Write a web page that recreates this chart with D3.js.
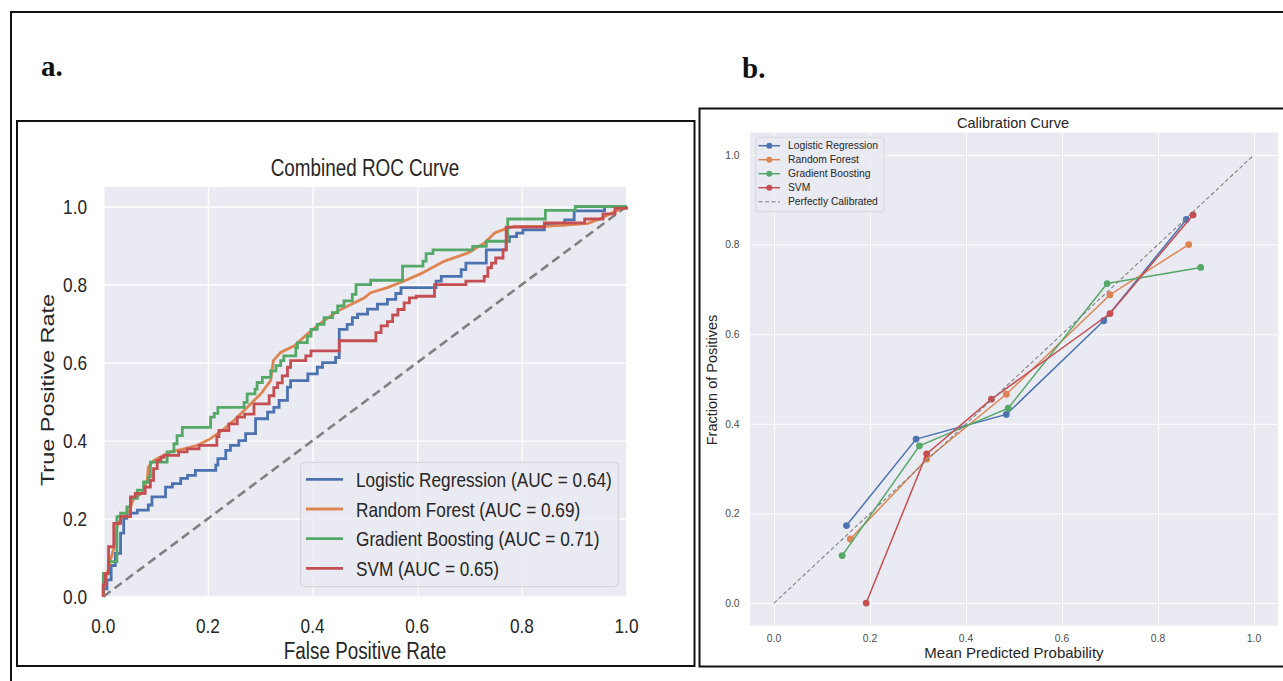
<!DOCTYPE html>
<html>
<head>
<meta charset="utf-8">
<script src="https://cdn.jsdelivr.net/npm/d3@7"></script>
<style>
body { margin: 0; background: #fff; }
svg { display: block; font-family: "Liberation Sans", Arial, sans-serif; }
</style>
</head>
<body>
<svg id="fig" width="1283" height="681"></svg>
<script>
// ---- data ----
var models = ["Logistic Regression", "Random Forest", "Gradient Boosting", "SVM"];
var aucs = [0.64, 0.69, 0.71, 0.65];
var ticks = [0, 0.2, 0.4, 0.6, 0.8, 1.0];

// ROC curves (fpr / tpr)
var lrFpr = [0, 0, 0.007, 0.015, 0.023, 0.033, 0.039, 0.045, 0.065, 0.086, 0.093, 0.119, 0.132, 0.148, 0.161, 0.176, 0.215, 0.219, 0.234, 0.243, 0.259, 0.272, 0.291, 0.314, 0.326, 0.336, 0.352, 0.358, 0.391, 0.409, 0.419, 0.444, 0.451, 0.466, 0.476, 0.486, 0.505, 0.524, 0.543, 0.559, 0.569, 0.636, 0.646, 0.684, 0.693, 0.732, 0.77, 0.776, 0.79, 0.802, 0.843, 0.882, 0.9, 0.958, 1];
var lrTpr = [0, 0.02, 0.043, 0.08, 0.111, 0.163, 0.201, 0.214, 0.222, 0.235, 0.256, 0.281, 0.29, 0.303, 0.311, 0.324, 0.337, 0.354, 0.375, 0.388, 0.40, 0.418, 0.456, 0.473, 0.485, 0.503, 0.537, 0.554, 0.571, 0.588, 0.60, 0.613, 0.685, 0.698, 0.715, 0.724, 0.737, 0.75, 0.762, 0.777, 0.792, 0.809, 0.821, 0.838, 0.855, 0.889, 0.911, 0.923, 0.932, 0.94, 0.953, 0.966, 0.989, 1.0, 1.0];

var rfFpr = [0, 0, 0.004, 0.013, 0.02, 0.026, 0.036, 0.049, 0.058, 0.068, 0.077, 0.084, 0.086, 0.096, 0.109, 0.128, 0.154, 0.18, 0.205, 0.231, 0.25, 0.275, 0.301, 0.32, 0.325, 0.339, 0.365, 0.39, 0.416, 0.448, 0.479, 0.499, 0.511, 0.543, 0.575, 0.607, 0.652, 0.697, 0.728, 0.748, 0.767, 0.786, 0.843, 0.888, 0.927, 0.952, 0.978, 1];
var rfTpr = [0, 0.03, 0.04, 0.09, 0.124, 0.179, 0.205, 0.218, 0.252, 0.26, 0.269, 0.298, 0.332, 0.349, 0.358, 0.371, 0.379, 0.388, 0.405, 0.43, 0.452, 0.485, 0.52, 0.554, 0.605, 0.626, 0.643, 0.673, 0.702, 0.732, 0.753, 0.766, 0.779, 0.792, 0.809, 0.828, 0.86, 0.881, 0.906, 0.932, 0.942, 0.949, 0.949, 0.953, 0.957, 0.97, 0.987, 1];

var gbFpr = [0, 0, 0.01, 0.026, 0.033, 0.045, 0.052, 0.065, 0.077, 0.087, 0.09, 0.122, 0.135, 0.141, 0.151, 0.205, 0.212, 0.219, 0.269, 0.275, 0.29, 0.294, 0.304, 0.32, 0.33, 0.339, 0.345, 0.368, 0.371, 0.39, 0.397, 0.409, 0.422, 0.438, 0.448, 0.46, 0.476, 0.483, 0.511, 0.572, 0.611, 0.617, 0.63, 0.706, 0.732, 0.773, 0.845, 0.902, 1];
var gbTpr = [0, 0.06, 0.09, 0.205, 0.214, 0.23, 0.252, 0.273, 0.294, 0.307, 0.345, 0.371, 0.392, 0.413, 0.434, 0.46, 0.47, 0.485, 0.498, 0.52, 0.532, 0.549, 0.562, 0.579, 0.592, 0.605, 0.617, 0.638, 0.651, 0.668, 0.685, 0.698, 0.715, 0.728, 0.745, 0.758, 0.775, 0.80, 0.811, 0.847, 0.86, 0.879, 0.889, 0.898, 0.911, 0.968, 0.99, 1.0, 1.0];

var svmFpr = [0, 0, 0.004, 0.01, 0.02, 0.033, 0.052, 0.061, 0.08, 0.09, 0.096, 0.103, 0.11, 0.116, 0.144, 0.16, 0.183, 0.217, 0.221, 0.24, 0.256, 0.27, 0.288, 0.317, 0.326, 0.333, 0.342, 0.352, 0.358, 0.387, 0.397, 0.451, 0.521, 0.531, 0.543, 0.553, 0.563, 0.575, 0.585, 0.598, 0.633, 0.693, 0.728, 0.735, 0.742, 0.75, 0.764, 0.77, 0.843, 0.92, 0.955, 0.978, 1];
var svmTpr = [0, 0.03, 0.06, 0.128, 0.188, 0.205, 0.256, 0.265, 0.281, 0.298, 0.328, 0.349, 0.357, 0.362, 0.371, 0.379, 0.388, 0.41, 0.426, 0.443, 0.46, 0.468, 0.494, 0.515, 0.536, 0.548, 0.566, 0.588, 0.605, 0.617, 0.63, 0.656, 0.677, 0.694, 0.705, 0.722, 0.736, 0.753, 0.766, 0.77, 0.80, 0.809, 0.821, 0.843, 0.855, 0.868, 0.889, 0.947, 0.958, 0.968, 0.981, 0.995, 1];

// calibration curves (mean predicted prob / fraction of positives)
var lrProb = [0.151, 0.296, 0.484, 0.687, 0.859];
var lrFrac = [0.173, 0.366, 0.421, 0.630, 0.856];
var rfProb = [0.159, 0.318, 0.484, 0.700, 0.864];
var rfFrac = [0.143, 0.321, 0.466, 0.688, 0.800];
var gbProb = [0.142, 0.303, 0.488, 0.694, 0.889];
var gbFrac = [0.106, 0.351, 0.435, 0.713, 0.749];
var svmProb = [0.192, 0.318, 0.453, 0.700, 0.873];
var svmFrac = [0.0, 0.333, 0.455, 0.646, 0.866];

var colors = ["#4c72b0", "#dd8452", "#55a868", "#c44e52"];

var svg = d3.select("#fig");

// outer frame and panel boxes
svg.append("rect").attr("x", 11).attr("y", 12).attr("width", 1290).attr("height", 700)
    .attr("fill", "none").attr("stroke", "#111").attr("stroke-width", 2);
svg.append("rect").attr("x", 17).attr("y", 121).attr("width", 677.5).attr("height", 545)
    .attr("fill", "none").attr("stroke", "#111").attr("stroke-width", 2);
svg.append("rect").attr("x", 699.5).attr("y", 108.5).attr("width", 600).attr("height", 558)
    .attr("fill", "none").attr("stroke", "#111").attr("stroke-width", 2);

svg.append("text").attr("x", 41).attr("y", 76).text("a.")
    .attr("font-family", "Liberation Serif, serif").attr("font-weight", "bold").attr("font-size", 29).attr("fill", "#111");
svg.append("text").attr("x", 742).attr("y", 78).text("b.")
    .attr("font-family", "Liberation Serif, serif").attr("font-weight", "bold").attr("font-size", 29).attr("fill", "#111");

// ================= a. ROC =================
var sx = 0.82; // panel a is squeezed horizontally
function stext(g, x, y, str, size, anchor, rot) {
    return g.append("text")
        .attr("transform", "translate(" + x + "," + y + ") scale(" + sx + ",1)" + (rot ? " rotate(-90)" : ""))
        .attr("text-anchor", anchor || "middle")
        .attr("font-size", size)
        .attr("fill", "#262626")
        .text(str);
}

var rx = d3.scaleLinear().domain([0, 1]).range([103.3, 626.5]);
var ry = d3.scaleLinear().domain([0, 1.05]).range([596.7, 187]);
var roc = svg.append("g");

roc.append("rect").attr("x", rx(0)).attr("y", ry(1.05))
    .attr("width", rx(1) - rx(0)).attr("height", ry(0) - ry(1.05)).attr("fill", "#eaeaf2");

roc.append("g").attr("transform", "translate(0," + ry(0) + ")")
    .call(d3.axisBottom(rx).tickValues(ticks).tickSize(-(ry(0) - ry(1.05))).tickFormat(""))
    .call(function (g) { g.select(".domain").remove(); })
    .selectAll("line").attr("stroke", "#fff").attr("stroke-width", 1.4);
roc.append("g").attr("transform", "translate(" + rx(0) + ",0)")
    .call(d3.axisLeft(ry).tickValues(ticks).tickSize(-(rx(1) - rx(0))).tickFormat(""))
    .call(function (g) { g.select(".domain").remove(); })
    .selectAll("line").attr("stroke", "#fff").attr("stroke-width", 1.4);

ticks.forEach(function (t) {
    stext(roc, rx(t), 632.5, d3.format(".1f")(t), 21, "middle");
    stext(roc, 87, ry(t) + 7.5, d3.format(".1f")(t), 21, "end");
});

stext(roc, 365, 176, "Combined ROC Curve", 23, "middle");
stext(roc, 365, 659, "False Positive Rate", 23, "middle");
stext(roc, 54, 390, "True Positive Rate", 23.5, "middle", true);

var rocLine = d3.line().x(function (d) { return rx(d[0]); }).y(function (d) { return ry(d[1]); });

roc.append("path").datum([[0, 0], [1, 1]]).attr("d", rocLine)
    .attr("fill", "none").attr("stroke", "#808080").attr("stroke-width", 2.6).attr("stroke-dasharray", "9,5");

var rocSeries = [
    { pts: d3.zip(lrFpr, lrTpr), curve: d3.curveStepAfter },
    { pts: d3.zip(rfFpr, rfTpr), curve: d3.curveLinear },
    { pts: d3.zip(gbFpr, gbTpr), curve: d3.curveStepAfter },
    { pts: d3.zip(svmFpr, svmTpr), curve: d3.curveStepAfter }
];
rocSeries.forEach(function (s, i) {
    roc.append("path").datum(s.pts).attr("d", rocLine.curve(s.curve))
        .attr("fill", "none").attr("stroke", colors[i]).attr("stroke-width", 2.8)
        .attr("stroke-linejoin", "miter");
});

// legend
var lg = roc.append("g");
lg.append("rect").attr("x", 300.7).attr("y", 462.3).attr("width", 317.6).attr("height", 124.4).attr("rx", 4)
    .attr("fill", "#eaeaf2").attr("fill-opacity", 0.85).attr("stroke", "#d0d0d6").attr("stroke-width", 1);
models.forEach(function (m, i) {
    var y = 479.3 + i * 29.7;
    lg.append("line").attr("x1", 306).attr("x2", 343).attr("y1", y).attr("y2", y)
        .attr("stroke", colors[i]).attr("stroke-width", 2.8);
    stext(lg, 356, y + 7.5, m + " (AUC = " + d3.format(".2f")(aucs[i]) + ")", 21, "start");
});

// ================= b. Calibration =================
var cx = d3.scaleLinear().domain([-0.05, 1.05]).range([750, 1278]);
var cy = d3.scaleLinear().domain([-0.05, 1.05]).range([625.5, 132.5]);
var cal = svg.append("g");

cal.append("rect").attr("x", cx(-0.05)).attr("y", cy(1.05))
    .attr("width", cx(1.05) - cx(-0.05)).attr("height", cy(-0.05) - cy(1.05)).attr("fill", "#eaeaf2");

cal.append("g").attr("transform", "translate(0," + cy(-0.05) + ")")
    .call(d3.axisBottom(cx).tickValues(ticks).tickSize(-(cy(-0.05) - cy(1.05))).tickFormat(""))
    .call(function (g) { g.select(".domain").remove(); })
    .selectAll("line").attr("stroke", "#fff").attr("stroke-width", 1);
cal.append("g").attr("transform", "translate(" + cx(-0.05) + ",0)")
    .call(d3.axisLeft(cy).tickValues(ticks).tickSize(-(cx(1.05) - cx(-0.05))).tickFormat(""))
    .call(function (g) { g.select(".domain").remove(); })
    .selectAll("line").attr("stroke", "#fff").attr("stroke-width", 1);

ticks.forEach(function (t) {
    cal.append("text").attr("x", cx(t)).attr("y", 641.8).attr("text-anchor", "middle")
        .attr("font-size", 10.3).attr("fill", "#4a4a4a").text(d3.format(".1f")(t));
    cal.append("text").attr("x", 739.5).attr("y", cy(t) + 3.7).attr("text-anchor", "end")
        .attr("font-size", 10.3).attr("fill", "#4a4a4a").text(d3.format(".1f")(t));
});

cal.append("text").attr("x", 1013).attr("y", 127.5).attr("text-anchor", "middle")
    .attr("font-size", 14.5).attr("fill", "#262626").text("Calibration Curve");
cal.append("text").attr("x", 1014).attr("y", 658).attr("text-anchor", "middle")
    .attr("font-size", 15).attr("fill", "#262626").text("Mean Predicted Probability");
cal.append("text").attr("transform", "translate(717,380) rotate(-90)").attr("text-anchor", "middle")
    .attr("font-size", 14.5).attr("fill", "#262626").text("Fraction of Positives");

var calLine = d3.line().x(function (d) { return cx(d[0]); }).y(function (d) { return cy(d[1]); });
var calSeries = [d3.zip(lrProb, lrFrac), d3.zip(rfProb, rfFrac), d3.zip(gbProb, gbFrac), d3.zip(svmProb, svmFrac)];

calSeries.forEach(function (pts, i) {
    cal.append("path").datum(pts).attr("d", calLine)
        .attr("fill", "none").attr("stroke", colors[i]).attr("stroke-width", 1.5);
    cal.selectAll(".dot" + i).data(pts).enter().append("circle")
        .attr("cx", function (d) { return cx(d[0]); })
        .attr("cy", function (d) { return cy(d[1]); })
        .attr("r", 3.4).attr("fill", colors[i]);
});
cal.append("path").datum([[0, 0], [1, 1]]).attr("d", calLine)
    .attr("fill", "none").attr("stroke", "#808080").attr("stroke-width", 1.1).attr("stroke-dasharray", "4,2.5");

// legend
var cl = cal.append("g");
cl.append("rect").attr("x", 755.7).attr("y", 137.3).attr("width", 128.3).attr("height", 74.4).attr("rx", 2.5)
    .attr("fill", "#eaeaf2").attr("fill-opacity", 0.85).attr("stroke", "#d0d0d6").attr("stroke-width", 0.8);
var calLabels = models.concat(["Perfectly Calibrated"]);
calLabels.forEach(function (m, i) {
    var y = 145.7 + i * 14;
    var line = cl.append("line").attr("x1", 758.5).attr("x2", 780).attr("y1", y).attr("y2", y);
    if (i < 4) {
        line.attr("stroke", colors[i]).attr("stroke-width", 1.5);
        cl.append("circle").attr("cx", 769.3).attr("cy", y).attr("r", 3).attr("fill", colors[i]);
    } else {
        line.attr("stroke", "#808080").attr("stroke-width", 1.1).attr("stroke-dasharray", "4,2.5");
    }
    cl.append("text").attr("x", 788).attr("y", y + 3.6).attr("font-size", 10.3)
        .attr("fill", "#262626").text(m);
});
</script>
</body>
</html>
